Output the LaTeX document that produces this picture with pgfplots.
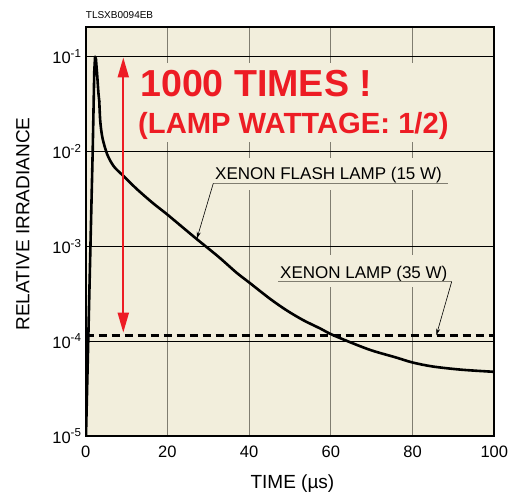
\documentclass[border=0pt]{standalone}
\usepackage{fontspec}
\setmainfont{Liberation Sans}
\usepackage{pgfplots}
\pgfplotsset{compat=1.18}
\usetikzlibrary{arrows.meta}
\definecolor{paper}{RGB}{242,238,220}
\definecolor{hot}{RGB}{237,28,36}
\definecolor{vgrid}{RGB}{128,125,112}

\begin{document}
\begin{tikzpicture}
\begin{axis}[
  name=ax, at={(0,0)}, anchor=south west,
  scale only axis, width=408.6pt, height=409.3pt,
  xmin=0, xmax=100,
  ymode=log, ymin=1e-5, ymax=0.207,
  axis line style={line width=1.8pt},
  axis background/.style={fill=paper},
  xtick={0,20,40,60,80,100},
  xticklabels={0,20,40,60,80,100},
  ytick={1e-5,1e-4,1e-3,1e-2,1e-1},
  yticklabels={10\textsuperscript{-5},10\textsuperscript{-4},10\textsuperscript{-3},10\textsuperscript{-2},10\textsuperscript{-1}},
  yminorticks=false,
  major tick length=0pt,
  xmajorgrids, ymajorgrids,
  every axis x grid/.append style={vgrid, line width=1.2pt},
  every axis y grid/.append style={black, line width=0.8pt},
  tick label style={font=\fontsize{16.5}{18}\selectfont},
  xticklabel style={anchor=base, yshift=-21pt},
  yticklabel style={anchor=base east, inner sep=0pt, xshift=-4pt, yshift=-7pt},
  xlabel={TIME (µs)},
  ylabel={RELATIVE IRRADIANCE},
  every axis x label/.style={at={(axis description cs:0.506,0)}, yshift=-52pt, anchor=base,
    font=\fontsize{19}{22}\selectfont},
  every axis y label/.style={at={(axis description cs:0,0.518)}, xshift=-69.7pt, rotate=90,
    anchor=north, inner sep=0pt, font=\fontsize{19}{22}\selectfont},
]
% boxes behind the texts, so the grid is broken there
\fill[paper] (rel axis cs:0.1207,0.7183) rectangle (rel axis cs:0.9038,0.9113);
\fill[paper] (rel axis cs:0.2993,0.6010) rectangle (rel axis cs:0.8965,0.6792);
\fill[paper] (rel axis cs:0.4608,0.3640) rectangle (rel axis cs:0.9063,0.4422);

% xenon lamp (35 W)
\addplot[black, line width=2.6pt, dash pattern=on 8pt off 5pt] coordinates {(0,1.15e-4) (100,1.15e-4)};

% xenon flash lamp (15 W): rise and peak
\addplot[black, line width=2.6pt, line join=round, line cap=round] coordinates {
  (0.07,1e-5) (0.62,1e-4) (1.16,1e-3) (1.71,1e-2) (2.1,0.07) (2.3,0.1)
  (2.5,0.095) (2.8,0.065) (3.1,0.042) (3.33,0.0336)
};
% decay
\addplot[black, line width=2.6pt, line cap=round, smooth, tension=0.5] coordinates {
  (3.33,0.0336) (3.57,0.0207) (4.12,0.0138) (5.31,0.00923) (6.9,0.00695)
  (9.12,0.00558) (12.45,0.00404) (16.43,0.00286) (20,0.00216)
  (26.8,0.00123) (32.5,7.76e-4) (36.9,5.28e-4) (40,4.16e-4) (45.1,2.80e-4)
  (49.2,2.11e-4) (53.3,1.66e-4) (57.4,1.36e-4) (60.7,1.15e-4)
  (69.2,8.2e-5) (75.8,6.76e-5) (80,5.96e-5) (85,5.4e-5) (92,5.0e-5) (100,4.75e-5)
};

% 1000 times arrow
\addplot[hot, line width=2pt, arrows={Triangle[length=20pt,width=11pt]-Triangle[length=20pt,width=11pt]}] coordinates {(9.2,1.23e-4) (9.2,0.098)};

\node[anchor=base west, inner sep=0pt, text=hot, font=\fontsize{37.6}{40}\selectfont\bfseries] at (rel axis cs:0.1329,0.8290) {1000 TIMES !};
\node[anchor=base west, inner sep=0pt, text=hot, font=\fontsize{29.2}{32}\selectfont\bfseries] at (rel axis cs:0.1280,0.7396) {(LAMP WATTAGE: 1/2)};

\node[anchor=base west, inner sep=0pt, font=\fontsize{17}{20}\selectfont] at (rel axis cs:0.3164,0.6255) {XENON FLASH LAMP (15 W)};
\draw[vgrid, line width=1pt] (rel axis cs:0.3123,0.6174) -- (rel axis cs:0.8867,0.6174);
\draw[black, line width=0.6pt, -{Stealth[length=7pt,width=4pt]}] (rel axis cs:0.3123,0.6174) -- (axis cs:27.2,1.2e-3);

\node[anchor=base west, inner sep=0pt, font=\fontsize{17}{20}\selectfont] at (rel axis cs:0.4755,0.3853) {XENON LAMP (35 W)};
\draw[vgrid, line width=1pt] (rel axis cs:0.4714,0.3770) -- (rel axis cs:0.8957,0.3770);
\draw[black, line width=0.6pt, -{Stealth[length=7pt,width=4pt]}] (rel axis cs:0.8957,0.3770) -- (axis cs:85.8,1.15e-4);
\end{axis}
\begin{scope}[shift={(ax.south west)}]
\node[anchor=base west, inner sep=0pt, font=\fontsize{10}{12}\selectfont] at (0pt,417pt) {TLSXB0094EB};
\pgfresetboundingbox
\path[use as bounding box] (-85.7pt,-55pt) rectangle (429.3pt,436pt);
\end{scope}
\end{tikzpicture}
\end{document}
